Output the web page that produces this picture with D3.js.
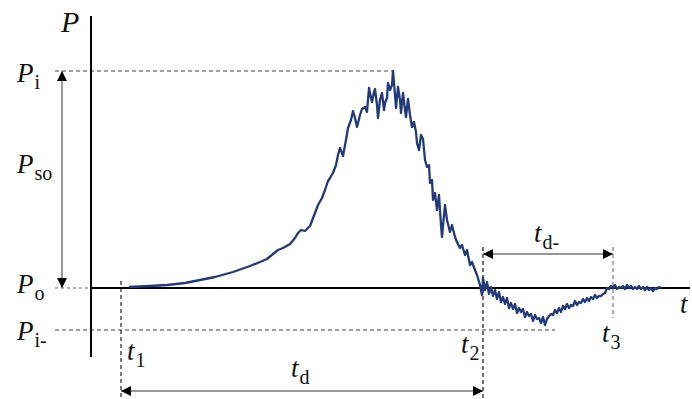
<!DOCTYPE html>
<html>
<head>
<meta charset="UTF-8">
<title>Pressure-time history</title>
<script src="https://d3js.org/d3.v7.min.js"></script>
<style>
  body { margin: 0; padding: 0; background: #fff; overflow: hidden; }
  svg { display: block; }
</style>
</head>
<body>
<svg id="chart" width="692" height="399"></svg>
<script>
// time (arbitrary units) and pressure (arbitrary units, ambient = 0)
const time = [19, 29.5, 38, 47, 54.5, 62, 71, 79.5, 84.5, 88, 91, 93.5, 96, 99.5, 102, 103.5, 105, 107, 109.5, 112,
  113.5, 115.5, 117, 118.5, 119.5, 121, 122.5, 123.5, 124.5, 126, 127.5, 128.5, 130, 131, 132, 133, 134.5, 135.5, 137, 138,
  139, 140, 140.5, 141.5, 142, 143, 143.5, 144.5, 145.5, 146.5, 147, 148, 148.5, 149.5, 150.5, 151, 152, 152.5, 153.5, 154.5,
  155, 156, 157, 157.5, 158.5, 159.5, 160.5, 161.5, 162.5, 163, 164, 165, 166, 167, 168, 169, 169.5, 170.5, 171, 172,
  173, 174, 175, 175.5, 176.5, 177, 178, 179, 179.5, 180.5, 182, 183, 184.5, 185.5, 187, 188, 189.5, 190.5, 192, 193,
  194.5, 195.5,
  196, 197, 198, 199, 200, 201, 202, 203, 204, 205, 206, 207, 208, 209, 210, 211, 212, 213, 214, 215,
  216, 217, 218, 219, 220, 221, 222, 223, 224, 225, 226, 227, 228, 229, 230, 231, 232, 233, 234, 235,
  236, 237, 238, 239, 240, 241, 242, 243, 244, 245, 246, 247, 248, 249, 250, 251, 252, 253, 254, 255,
  256, 257, 258, 259, 260, 261, 262, 263, 264, 265, 266, 267, 268, 269, 270, 271, 272, 273, 274, 275,
  276, 277, 278, 279, 280, 281, 282, 283, 284, 285.5];
const pressure = [0.5, 1, 1.5, 2.5, 4, 5.5, 8, 11, 13, 14.5, 17, 19, 20, 22, 25, 27.5, 29, 28.5, 31, 37.5,
  41.5, 45, 49, 53.5, 55, 57.5, 61.5, 66.5, 70, 66, 74, 80, 84, 88.5, 85, 80.5, 86.5, 89.5, 90.5, 88,
  100, 95, 93, 98, 99.5, 91.5, 85, 94, 97.5, 89, 92.5, 95, 102.5, 99, 101.5, 108.5, 96.5, 90, 100.5, 94,
  87.5, 97.5, 89, 85.5, 94.5, 86.5, 80.5, 83, 78, 72.5, 69, 76.5, 74.5, 64, 60.5, 61.5, 52.5, 54, 44, 47.5,
  39, 46.5, 31.5, 25.5, 36.5, 41.5, 34, 30, 28, 31.5, 25.5, 23, 20, 21.5, 16.5, 19, 11.5, 13, 9, 6.5,
  1.5, -3.5,
  5, -1, 3, -3, 0.5, -4, -1, -5.5, -2, -7, -4.5, -8, -5, -10, -7.5, -10.5, -8, -12.5, -10, -12,
  -10.5, -14.5, -12, -14, -13, -16.5, -13.5, -15.5, -15, -17.5, -14.5, -18.5, -15.5, -14, -13, -13.5, -11, -12.5, -10, -12,
  -9, -10.5, -8, -10, -8.5, -9, -6.5, -8.5, -7, -7.5, -5.5, -7, -5, -6.5, -4.5, -5.5, -3.5, -5, -4, -4,
  -3, -2.5, 0, -0.5, 1, 0, 1.5, -0.5, 0.5, 0, 1, -0.5, 1.5, 0, 1, -0.5, 0.5, -0.5, 1, -0.5,
  0.5, -1, 0.5, -1, 0, -1.5, 0, -0.5, 0.5, 0];

// characteristic levels and times
const P_i = 108.5, P_o = 0, P_iMinus = -21;
const t1 = 15, t2 = 196, t3 = 261;

const svg = d3.select("#chart");

const x = d3.scaleLinear().domain([0, 291]).range([91, 673]);
const y = d3.scaleLinear().domain([-34.5, 136]).range([357, 16]);

// arrow heads
const defs = svg.append("defs");
function head(id, orient) {
  defs.append("marker")
    .attr("id", id)
    .attr("viewBox", "0 0 10 10")
    .attr("refX", 10).attr("refY", 5)
    .attr("markerWidth", 13).attr("markerHeight", 10)
    .attr("markerUnits", "userSpaceOnUse")
    .attr("orient", orient)
    .append("path")
    .attr("d", "M0,0 L10,5 L0,10 Z")
    .attr("fill", "#000");
}
head("arrEnd", "auto");
head("arrStart", "auto-start-reverse");

// dashed guide lines
const guides = [
  {x1: 55, y1: y(P_i), x2: x(151), y2: y(P_i), c: "#444", d: "4,3"},
  {x1: 55, y1: y(P_o), x2: x(0), y2: y(P_o), c: "#666", d: "3,3"},
  {x1: 55, y1: y(P_iMinus), x2: x(232), y2: y(P_iMinus), c: "#444", d: "4,3"},
  {x1: x(t1), y1: y(3.5), x2: x(t1), y2: 399, c: "#222", d: "4,3"},
  {x1: x(t2), y1: y(20.5), x2: x(t2), y2: 399, c: "#111", d: "4,3"},
  {x1: x(t3), y1: y(20.5), x2: x(t3), y2: y(-15), c: "#777", d: "4,3"}
];
svg.append("g").selectAll("line").data(guides).join("line")
  .attr("x1", d => d.x1).attr("y1", d => d.y1)
  .attr("x2", d => d.x2).attr("y2", d => d.y2)
  .attr("stroke", d => d.c).attr("stroke-width", 1.2)
  .attr("stroke-dasharray", d => d.d);

// axes
svg.append("line")
  .attr("x1", x(0)).attr("x2", x(0))
  .attr("y1", y(136)).attr("y2", y(-34.5))
  .attr("stroke", "#000").attr("stroke-width", 2);
svg.append("line")
  .attr("x1", x(0)).attr("x2", x(299.5))
  .attr("y1", y(0)).attr("y2", y(0))
  .attr("stroke", "#000").attr("stroke-width", 2);

// dimension arrows
function dimArrow(x1, y1, x2, y2) {
  svg.append("line")
    .attr("x1", x1).attr("y1", y1).attr("x2", x2).attr("y2", y2)
    .attr("stroke", "#777").attr("stroke-width", 1.5)
    .attr("marker-start", "url(#arrStart)")
    .attr("marker-end", "url(#arrEnd)");
}
dimArrow(62, y(P_i), 62, y(P_o));
dimArrow(x(t1), 391, x(t2), 391);
dimArrow(x(t2), 254, x(t3), 254);

// the pressure trace
const series = time.map((t, i) => [t, pressure[i]]);
svg.append("path")
  .datum(series)
  .attr("fill", "none")
  .attr("stroke", "#22397a")
  .attr("stroke-width", 2.3)
  .attr("stroke-linejoin", "round")
  .attr("d", d3.line().x(d => x(d[0])).y(d => y(d[1])));

// labels: x, baseline, main symbol, subscript, size
const labels = [
  {x: 61, y: 32, m: "P", s: "", fs: 30},
  {x: 17, y: 82, m: "P", s: "i", fs: 27},
  {x: 17, y: 173, m: "P", s: "so", fs: 27},
  {x: 17, y: 293, m: "P", s: "o", fs: 27},
  {x: 17, y: 340, m: "P", s: "i-", fs: 27},
  {x: 127, y: 360, m: "t", s: "1", fs: 27},
  {x: 461, y: 353, m: "t", s: "2", fs: 27},
  {x: 602, y: 342, m: "t", s: "3", fs: 27},
  {x: 291, y: 377, m: "t", s: "d", fs: 27},
  {x: 534, y: 242, m: "t", s: "d-", fs: 27},
  {x: 680, y: 313, m: "t", s: "", fs: 27}
];
const lab = svg.append("g").selectAll("text").data(labels).join("text")
  .attr("x", d => d.x).attr("y", d => d.y)
  .style("font-family", '"Liberation Serif"')
  .attr("fill", "#111")
  .attr("font-size", d => d.fs);
lab.append("tspan").attr("font-style", "italic").text(d => d.m);
lab.append("tspan").attr("font-size", 20).attr("dx", 1).attr("dy", 7).text(d => d.s);
</script>
</body>
</html>
